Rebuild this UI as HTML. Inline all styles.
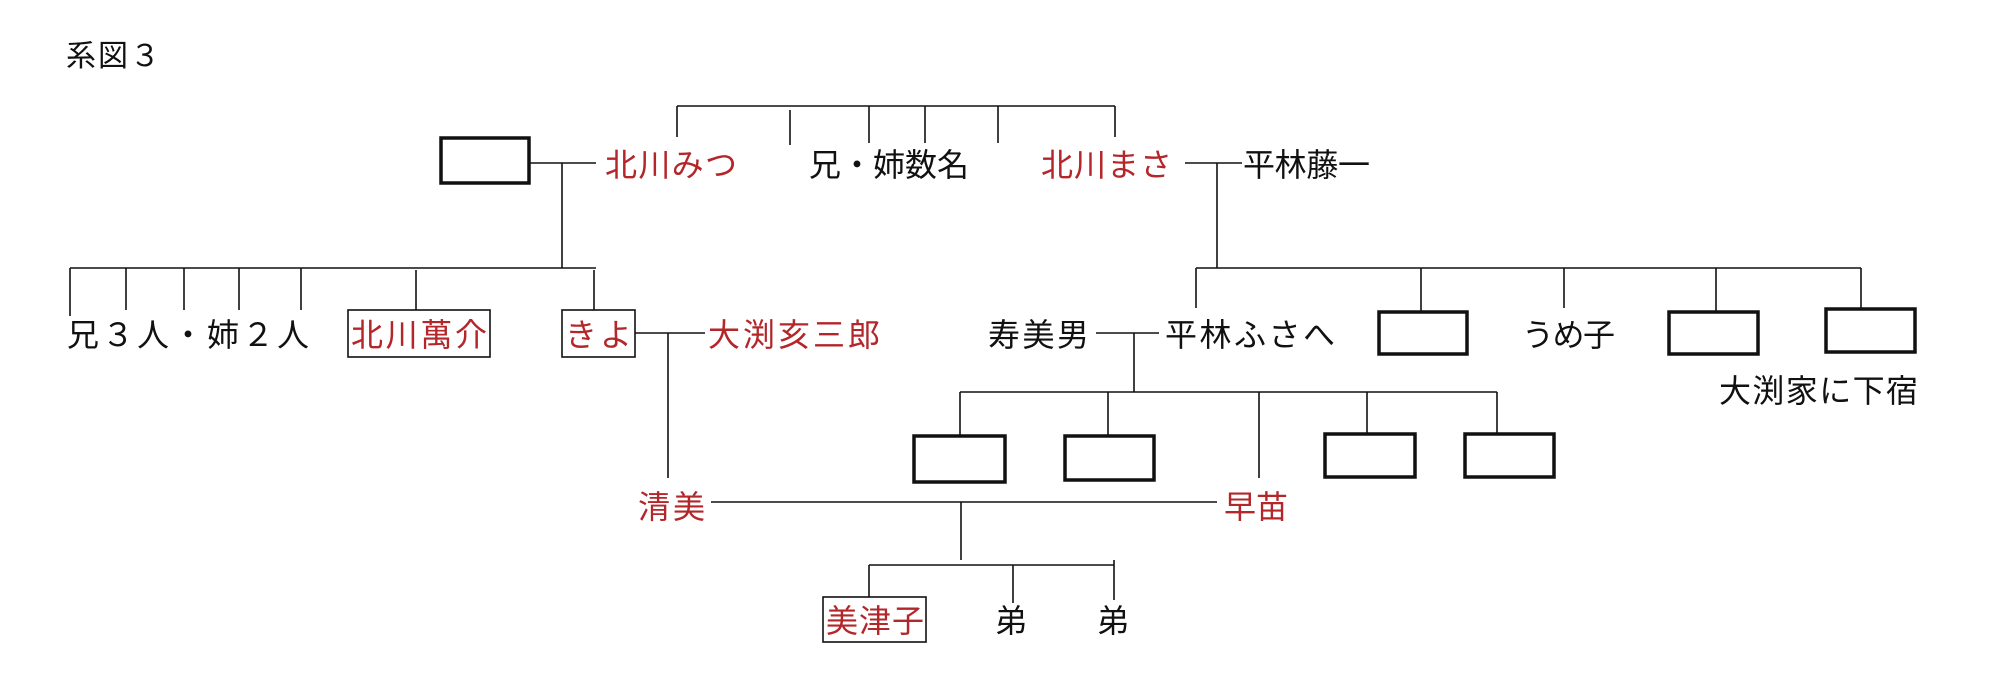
<!DOCTYPE html>
<html><head><meta charset="utf-8"><style>
html,body{margin:0;padding:0;background:#fff;}
svg{display:block}
text{font-family:"Liberation Sans","Noto Sans CJK JP",sans-serif;font-size:32px;fill:#111;}
.r{fill:#b3262a;}
</style></head><body>
<svg width="2000" height="694" viewBox="0 0 2000 694" xmlns="http://www.w3.org/2000/svg">
<g stroke="#111" stroke-width="1.6" fill="none">
<path d="M677 106H1115M677 106V137M790 110V145M869 106V143M925 106V143M998 106V143M1115 106V137"/>
<path d="M529 163H596M562 163V268M70 268H596M70 268V316M126 268V310M184 268V310M239 268V310M301 268V310M416 270V310M594 270V310"/>
<path d="M635 333H705M668 333V478"/>
<path d="M1185 163H1242M1217 163V268M1196 268H1861M1196 268V308M1421 268V311M1564 268V308M1716 268V311M1861 268V308"/>
<path d="M1096 333H1159M1134 333V392M960 392H1497M960 392V435M1108 392V435M1259 392V478M1367 392V433M1497 392V433"/>
<path d="M711 502H1217M961 502V560M869 565H1114M869 565V597M1013 565V603M1114 560V600"/>
</g>
<g stroke="#111" stroke-width="3.5" fill="none">
<rect x="441" y="138" width="88" height="45"/>
<rect x="1379" y="312" width="88" height="42"/>
<rect x="1669" y="312" width="89" height="42"/>
<rect x="1826" y="309" width="89" height="43"/>
<rect x="914" y="436" width="91" height="46"/>
<rect x="1065" y="436" width="89" height="44"/>
<rect x="1325" y="434" width="90" height="43"/>
<rect x="1465" y="434" width="89" height="43"/>
</g>
<g stroke="#111" stroke-width="1.6" fill="none">
<rect x="348" y="310" width="142" height="47"/>
<rect x="562" y="310" width="73" height="47"/>
<rect x="823" y="597" width="103" height="45"/>
</g>
<text x="66" y="66" textLength="94" style="font-size:30px">系図３</text>
<text class="r" x="605" y="176" textLength="132">北川みつ</text>
<text x="809" y="176" textLength="160">兄・姉数名</text>
<text class="r" x="1041" y="176" textLength="131">北川まさ</text>
<text x="1243" y="176" textLength="127">平林藤一</text>
<text x="67" y="346" textLength="242">兄３人・姉２人</text>
<text class="r" x="351" y="346" textLength="136">北川萬介</text>
<text class="r" x="565" y="346" textLength="67">きよ</text>
<text class="r" x="708" y="346" textLength="172">大渕亥三郎</text>
<text x="988" y="346" textLength="101">寿美男</text>
<text x="1165" y="346" textLength="170">平林ふさへ</text>
<text x="1522" y="346" textLength="93">うめ子</text>
<text x="1719" y="402" textLength="199">大渕家に下宿</text>
<text class="r" x="638" y="518" textLength="67">清美</text>
<text class="r" x="1224" y="518" textLength="64">早苗</text>
<text class="r" x="826" y="632" textLength="98">美津子</text>
<text x="995" y="632">弟</text>
<text x="1097" y="632">弟</text>
</svg>
</body></html>
